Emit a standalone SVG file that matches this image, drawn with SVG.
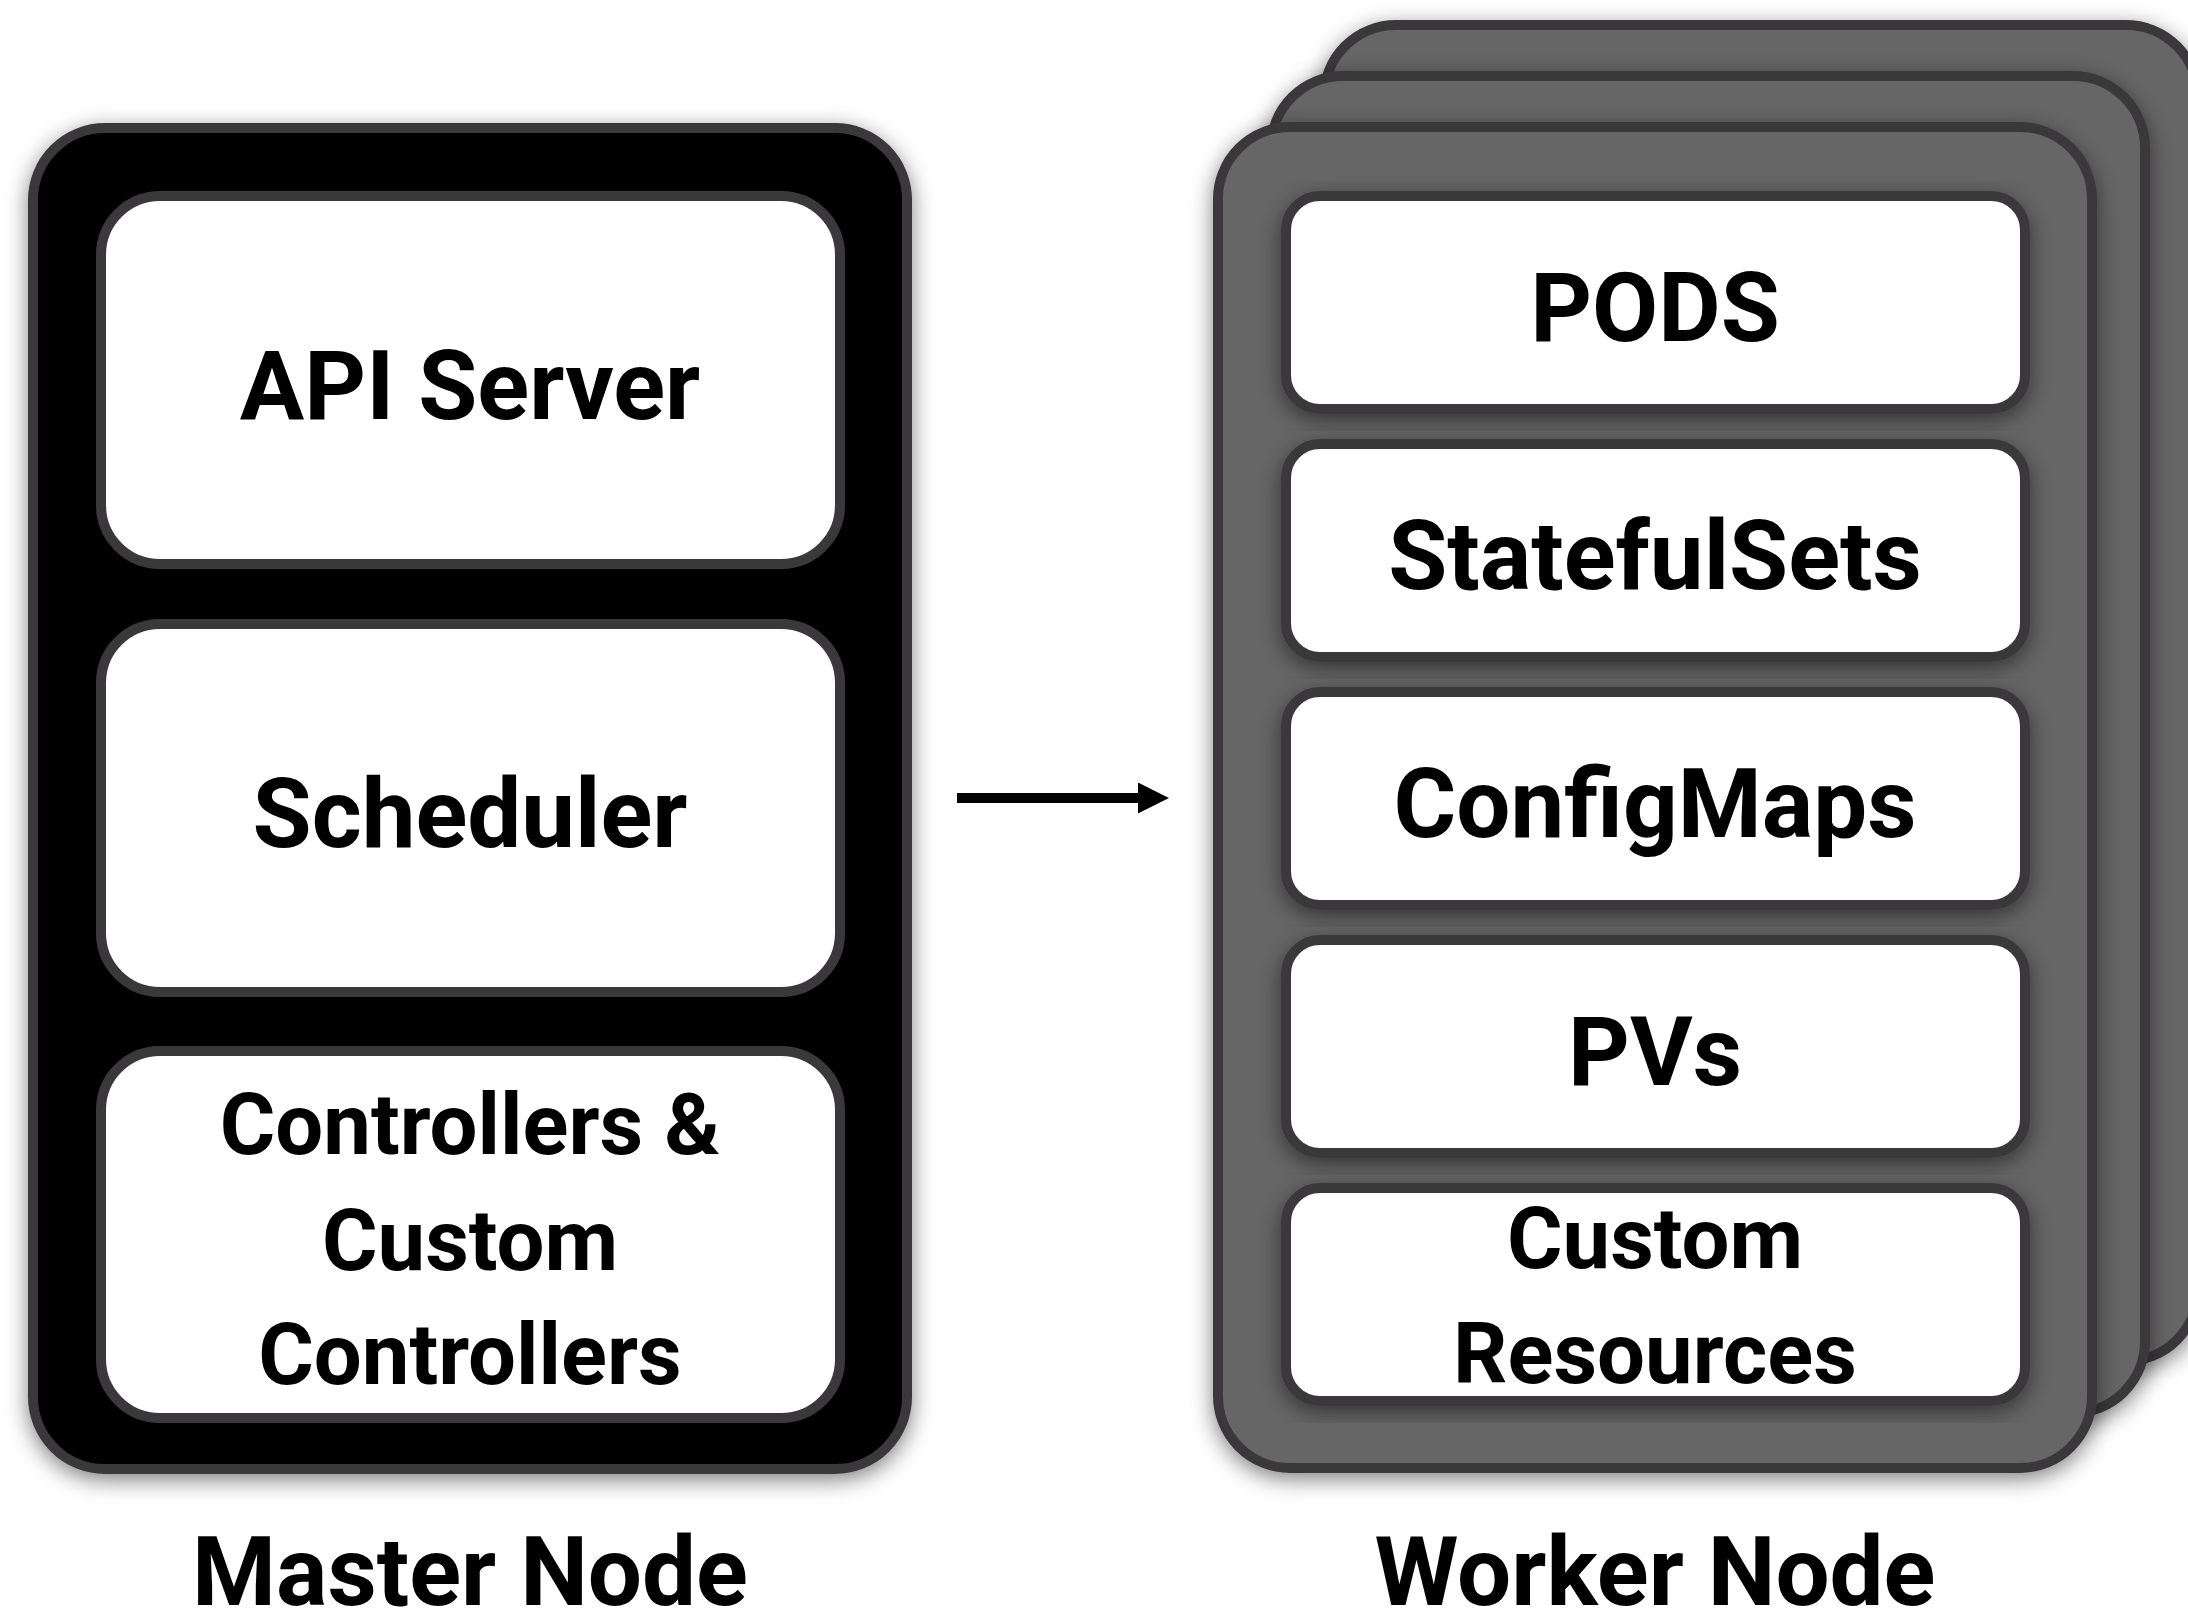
<svg xmlns="http://www.w3.org/2000/svg" width="2188" height="1612" viewBox="0 0 2188 1612">
<defs>
<filter id="sh" x="-10%" y="-10%" width="120%" height="120%">
<feGaussianBlur in="SourceAlpha" stdDeviation="11"/>
<feOffset dx="0" dy="6" result="b"/>
<feFlood flood-color="#000" flood-opacity="0.5"/>
<feComposite in2="b" operator="in"/>
<feMerge><feMergeNode/><feMergeNode in="SourceGraphic"/></feMerge>
</filter>
<marker id="ah" markerUnits="userSpaceOnUse" markerWidth="32" markerHeight="32" refX="0" refY="15.5" orient="auto">
<path d="M0,0 L31,15.5 L0,31 z" fill="#000"/>
</marker>
</defs>
<style>
.outer{stroke:#3b393a;stroke-width:10;filter:url(#sh)}
.m{fill:#000}
.w{fill:#666}
.box{fill:#fff;stroke:#3b393a;stroke-width:10;filter:url(#sh)}
text{font-family:Roboto,"Liberation Sans",sans-serif;font-weight:bold;font-size:96px;fill:#000;text-anchor:middle}
text.sm{font-size:85px}
</style>
<rect width="2188" height="1612" fill="#fff"/>

<g id="master-node">
<rect class="outer m" x="33" y="128" width="874" height="1341" rx="72"/>
<text x="470" y="1605">Master Node</text>
</g>
<g id="api-server">
<rect class="box" x="101" y="196" width="739" height="368" rx="59"/>
<text x="470" y="419">API Server</text>
</g>
<g id="scheduler">
<rect class="box" x="101" y="624" width="739" height="368" rx="59"/>
<text x="470" y="847">Scheduler</text>
</g>
<g id="controllers">
<rect class="box" x="101" y="1051" width="739" height="367" rx="59"/>
<text class="sm" x="470" y="1154">Controllers &amp;</text>
<text class="sm" x="470" y="1270">Custom</text>
<text class="sm" x="470" y="1384">Controllers</text>
</g>

<g id="worker-node">
<rect class="outer w" x="1324" y="25" width="874" height="1336" rx="72"/>
<rect class="outer w" x="1271" y="76" width="874" height="1337" rx="72"/>
<rect class="outer w" x="1218" y="127" width="874" height="1341" rx="72"/>
<text x="1655" y="1605">Worker Node</text>
</g>
<g id="pods">
<rect class="box" x="1286" y="196" width="739" height="213" rx="34"/>
<text x="1655" y="341">PODS</text>
</g>
<g id="statefulsets">
<rect class="box" x="1286" y="444" width="739" height="213" rx="34"/>
<text x="1655" y="589">StatefulSets</text>
</g>
<g id="configmaps">
<rect class="box" x="1286" y="692" width="739" height="213" rx="34"/>
<text x="1655" y="837">ConfigMaps</text>
</g>
<g id="pvs">
<rect class="box" x="1286" y="940" width="739" height="213" rx="34"/>
<text x="1655" y="1085">PVs</text>
</g>
<g id="custom-resources">
<rect class="box" x="1286" y="1188" width="739" height="213" rx="34"/>
<text class="sm" x="1655" y="1268">Custom</text>
<text class="sm" x="1655" y="1383">Resources</text>
</g>

<g id="connectors">
<line x1="957" y1="798" x2="1138" y2="798" stroke="#000" stroke-width="10" marker-end="url(#ah)"/>
</g>
</svg>
